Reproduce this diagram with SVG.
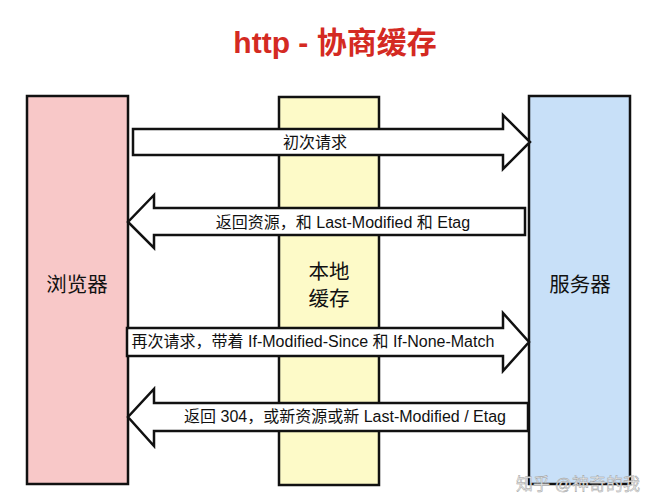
<svg xmlns="http://www.w3.org/2000/svg" width="656" height="500" viewBox="0 0 656 500">
<style>
text{font-family:"Liberation Sans","Noto Sans CJK SC",sans-serif;fill:#111}
.box{stroke:#111;stroke-width:2.5}
.arr{fill:#fff;stroke:#111;stroke-width:2.5;stroke-linejoin:miter}
.lbl{font-size:16px;text-anchor:middle}
.nl{font-size:20.5px;text-anchor:middle}
</style>
<rect width="656" height="500" fill="#fff"/>
<text x="335" y="53" text-anchor="middle" style="font-size:30px;font-weight:bold;fill:#d42a22">http - 协商缓存</text>
<g id="browser"><rect class="box" x="27" y="96" width="101" height="388" fill="#f8c8c8"/><text class="nl" x="77" y="292">浏览器</text></g>
<g id="cache"><rect class="box" x="279" y="97" width="100" height="388" fill="#fdfac8"/><text class="nl" x="329" y="279">本地</text><text class="nl" x="329" y="306">缓存</text></g>
<g id="server"><rect class="box" x="529" y="96" width="101" height="388" fill="#c8e0f8"/><text class="nl" x="580" y="292">服务器</text></g>
<g id="connectors">
<path class="arr" d="M133 129 H503 V115 L530 142 L503 169 V155 H133 Z"/>
<text class="lbl" x="315" y="148">初次请求</text>
<path class="arr" d="M525 208 H154 V195 L128 222 L154 248 V235 H525 Z"/>
<text class="lbl" x="343" y="228">返回资源，和 Last-Modified 和 Etag</text>
<path class="arr" d="M127 328 H503 V313 L529 342 L503 371 V356 H127 Z"/>
<text class="lbl" x="313" y="347">再次请求，带着 If-Modified-Since 和 If-None-Match</text>
<path class="arr" d="M528 403 H154 V389 L128 417 L154 446 V431 H528 Z"/>
<text class="lbl" x="345" y="422">返回 304，或新资源或新 Last-Modified / Etag</text>
</g>
<text x="640" y="490" text-anchor="end" style="font-size:17px;fill:#e8e8e8;stroke:#999;stroke-width:0.4">知乎 @神奇的我</text>
</svg>
